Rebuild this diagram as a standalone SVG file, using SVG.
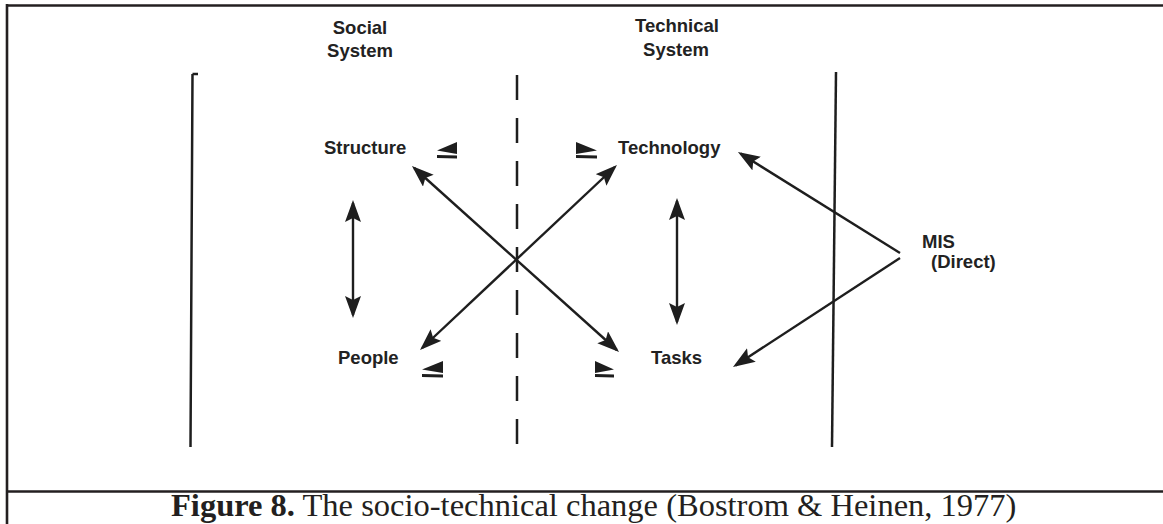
<svg xmlns="http://www.w3.org/2000/svg" width="1163" height="524" viewBox="0 0 1163 524">
<style>
  .lbl { font-family: "Liberation Sans", Arial, sans-serif; font-size: 18.5px; font-weight: bold; fill: #222222; }
  .ln { stroke: #1e1e1e; stroke-width: 2.5; fill: none; }
  .arr { stroke: #1e1e1e; stroke-width: 2.4; fill: none; marker-start: url(#ah); marker-end: url(#ah); }
  .arr1 { stroke: #1e1e1e; stroke-width: 2.4; fill: none; marker-end: url(#ah); }
  .mk { fill: #1e1e1e; }
  .frame { stroke: #231f20; stroke-width: 2.6; fill: none; }
  .cap { font-family: "Liberation Serif", "Times New Roman", serif; font-size: 32.5px; fill: #231f20; }
</style>
<defs>
  <marker id="ah" markerUnits="userSpaceOnUse" markerWidth="26" markerHeight="18" refX="19" refY="8" orient="auto-start-reverse" viewBox="0 0 26 18">
    <path d="M0,0 L22,8 L0,16 L4,8 Z" fill="#1e1e1e"/>
  </marker>
</defs>
<rect width="1163" height="524" fill="#ffffff"/>

<g id="frame">
  <line class="frame" x1="7" y1="5.5" x2="1163" y2="5.5"/>
  <line class="frame" x1="7" y1="4" x2="7" y2="524"/>
  <line class="frame" x1="7" y1="491.5" x2="1163" y2="491.5"/>
</g>

<g id="boundaries">
  <path class="ln" d="M192.5,74 L190.5,447 M192.5,74 L198,74"/>
  <line class="ln" x1="517" y1="75" x2="517" y2="448" stroke-dasharray="25 18"/>
  <line class="ln" x1="836" y1="72" x2="832" y2="447"/>
</g>

<g id="header-social">
  <text class="lbl" x="360" y="34" text-anchor="middle">Social</text>
  <text class="lbl" x="360" y="57" text-anchor="middle">System</text>
</g>
<g id="header-technical">
  <text class="lbl" x="677" y="32" text-anchor="middle">Technical</text>
  <text class="lbl" x="676" y="56" text-anchor="middle">System</text>
</g>

<g id="node-structure">
  <text class="lbl" x="324" y="154">Structure</text>
  <path class="mk" d="M457,142 L437,150.5 L457,154 Z M437,155 L457,155.5 L457,158.5 L437,158 Z"/>
</g>
<g id="node-technology">
  <text class="lbl" x="618" y="154">Technology</text>
  <path class="mk" d="M576,142 L597,150.5 L576,154 Z M576,155 L597,155.5 L597,158.5 L576,158 Z"/>
</g>
<g id="node-people">
  <text class="lbl" x="338" y="364">People</text>
  <path class="mk" d="M443,361 L422,369.5 L443,373 Z M422,374 L443,374.5 L443,377.5 L422,377 Z"/>
</g>
<g id="node-tasks">
  <text class="lbl" x="651" y="364">Tasks</text>
  <path class="mk" d="M595,361 L614,369.5 L595,373 Z M595,374 L614,374.5 L614,377.5 L595,377 Z"/>
</g>
<g id="node-mis">
  <text class="lbl" x="922" y="248">MIS</text>
  <text class="lbl" x="931" y="268">(Direct)</text>
</g>

<g id="connectors">
  <line class="arr" x1="353" y1="203" x2="353" y2="315"/>
  <line class="arr" x1="677" y1="201" x2="677" y2="322"/>
  <line class="arr" x1="414.2" y1="168" x2="616.8" y2="350"/>
  <line class="arr" x1="614.8" y1="167" x2="422.2" y2="348"/>
  <line class="arr1" x1="900" y1="253" x2="740.5" y2="153.6"/>
  <line class="arr1" x1="900" y1="258" x2="735.5" y2="365.4"/>
</g>

<g id="caption">
  <text class="cap" x="171" y="516"><tspan font-weight="bold">Figure 8.</tspan> The socio-technical change (Bostrom &amp; Heinen, 1977)</text>
</g>
</svg>
